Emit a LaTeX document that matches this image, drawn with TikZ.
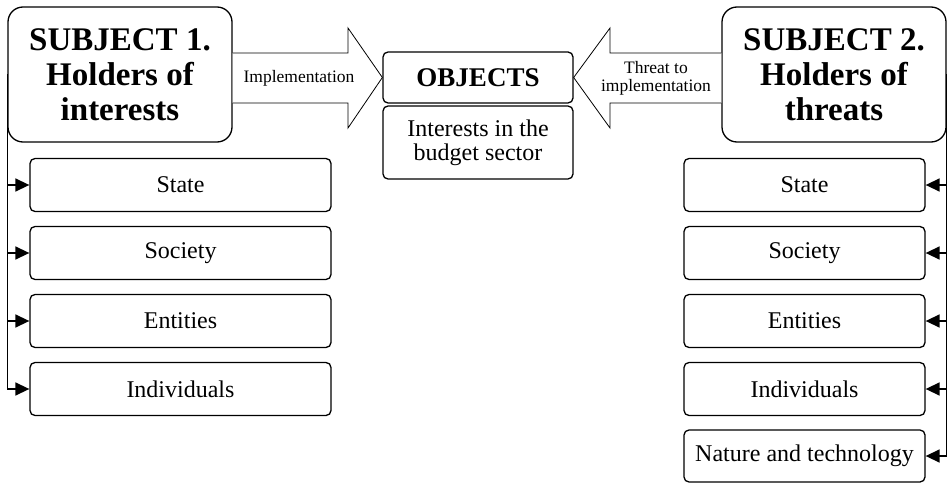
\documentclass[tikz,border=0pt]{standalone}
\usepackage{fontspec}
\setmainfont{Liberation Serif}
\usetikzlibrary{arrows.meta}
\tikzset{
  subject/.style={draw,line width=1.3pt,
        rounded corners=15pt,
        minimum width=224pt,minimum height=135pt,
        align=center,
        font=\fontsize{33}{35}\selectfont\bfseries},
  item/.style={draw,line width=1.3pt,
        rounded corners=5pt,
        minimum height=53pt,align=center,
        font=\fontsize{24}{24}\selectfont},
  blockarrow/.style={draw,line width=0.8pt,fill=white},
  feed/.style={line width=1.5pt,
        -{Triangle[length=14pt,width=13pt]}},
}
\begin{document}
\begin{tikzpicture}[x=1pt,y=-1pt]
  \useasboundingbox (0,0) rectangle (948,484);
  % subjects and objects
  \node[subject] (subj1) at (120,74.5)
    {SUBJECT 1.\\Holders of\\interests};
  \node[subject] (subj2) at (834,74.5)
    {SUBJECT 2.\\Holders of\\threats};
  \node[item,minimum width=190pt,minimum height=51pt,
        font=\fontsize{27}{28}\selectfont\bfseries]
    (obj) at (478,77.5) {OBJECTS};
  \node[item,minimum width=190pt,minimum height=73pt]
    (interest) at (478,142.5)
    {Interests in the\\budget sector};
  % block arrows
  \draw[blockarrow] (subj1.east |- 0,53) -- (348,53)
    -- (348,28) -- (obj.west) -- (348,128)
    -- (348,103) -- (subj1.east |- 0,103);
  \node[font=\fontsize{17.5}{18}\selectfont]
    (impl) at (299,78) {Implementation};
  \draw[blockarrow] (subj2.west |- 0,53) -- (610,53)
    -- (610,28) -- (obj.east) -- (610,128)
    -- (610,103) -- (subj2.west |- 0,103);
  \node[font=\fontsize{17.5}{18}\selectfont,align=center]
    (threat) at (656,78) {Threat to\\implementation};
  % holders of interests
  \node[item,minimum width=301pt] (l1) at (180.5,185) {State};
  \node[item,minimum width=301pt] (l2) at (180.5,253) {Society};
  \node[item,minimum width=301pt] (l3) at (180.5,321) {Entities};
  \node[item,minimum width=301pt] (l4) at (180.5,389) {Individuals};
  \draw[feed] (subj1.west) |- (l4.west);
  \draw[feed] (subj1.west |- l1.west) -- (l1.west);
  \draw[feed] (subj1.west |- l2.west) -- (l2.west);
  \draw[feed] (subj1.west |- l3.west) -- (l3.west);
  % holders of threats
  \node[item,minimum width=241pt] (r1) at (804.5,185) {State};
  \node[item,minimum width=241pt] (r2) at (804.5,253) {Society};
  \node[item,minimum width=241pt] (r3) at (804.5,321) {Entities};
  \node[item,minimum width=241pt] (r4) at (804.5,389) {Individuals};
  \node[item,minimum width=241pt,minimum height=52pt]
    (r5) at (804.5,456) {Nature and technology};
  \draw[feed] (subj2.east) |- (r5.east);
  \draw[feed] (subj2.east |- r1.east) -- (r1.east);
  \draw[feed] (subj2.east |- r2.east) -- (r2.east);
  \draw[feed] (subj2.east |- r3.east) -- (r3.east);
  \draw[feed] (subj2.east |- r4.east) -- (r4.east);
\end{tikzpicture}
\end{document}
